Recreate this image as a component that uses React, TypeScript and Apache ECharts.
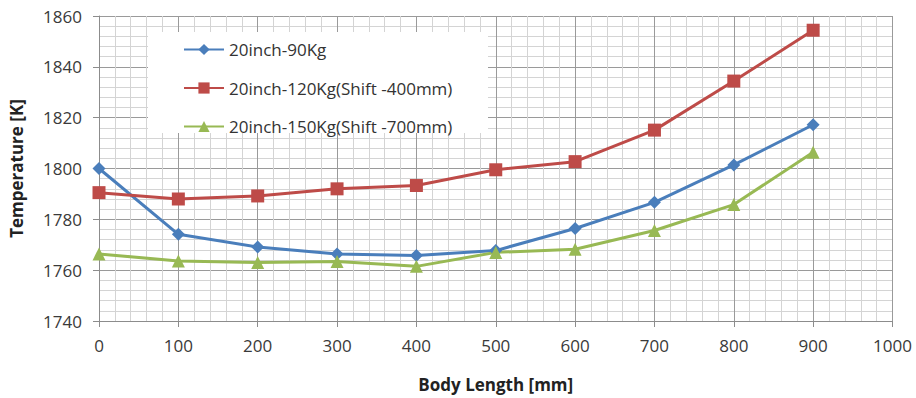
import React, { useEffect, useRef } from "react";
import * as echarts from "echarts";

const xValues = [0, 100, 200, 300, 400, 500, 600, 700, 800, 900];
const series90 = [1800, 1774.1, 1769.1, 1766.4, 1765.8, 1767.7, 1776.4, 1786.7, 1801.4, 1817.2];
const series120 = [1790.5, 1788, 1789.2, 1792, 1793.3, 1799.5, 1802.7, 1815.1, 1834.4, 1854.4];
const series150 = [1766.4, 1763.6, 1763.0, 1763.4, 1761.5, 1767.0, 1768.2, 1775.6, 1785.8, 1806.4];
const seriesNames = ["20inch-90Kg", "20inch-120Kg(Shift -400mm)", "20inch-150Kg(Shift -700mm)"];

const FONT = "Open Sans";

export default function App() {
  const ref = useRef<HTMLDivElement>(null);
  useEffect(() => {
    if (!ref.current) return;
    const chart = echarts.init(ref.current, null, { renderer: "svg" });
    const mk = (name: string, data: number[], color: string, symbol: string, size: number) => ({
      name,
      type: "line",
      data: xValues.map((x, i) => [x, data[i]]),
      symbol,
      symbolSize: size,
      lineStyle: { color, width: 3 },
      itemStyle: { color },
      z: 3,
    });
    chart.setOption({
      animation: false,
      textStyle: { fontFamily: FONT },
      grid: { left: 92.5, right: 23.5, top: 16, bottom: 70, containLabel: false },
      graphic: [
        {
          type: "rect",
          z: 1,
          shape: { x: 148, y: 32, width: 340, height: 101 },
          style: { fill: "#ffffff" },
        },
      ],
      legend: {
        orient: "vertical",
        left: 178,
        top: 36,
        itemWidth: 40,
        itemHeight: 14,
        itemGap: 21.5,
        z: 5,
        textStyle: { fontSize: 17, color: "#333", fontFamily: FONT },
        data: seriesNames,
      },
      xAxis: {
        type: "value",
        min: 0,
        max: 1000,
        interval: 100,
        name: "Body Length [mm]",
        nameLocation: "middle",
        nameGap: 55,
        nameTextStyle: { fontSize: 17, fontWeight: "bold", color: "#222", fontFamily: FONT },
        axisLine: { show: true, lineStyle: { color: "#8c8c8c", width: 1 } },
        axisTick: { show: true, length: 6, lineStyle: { color: "#8c8c8c" } },
        axisLabel: { fontSize: 17, color: "#3a3a3a", margin: 16, formatter: (v: number) => String(v) },
        splitLine: { show: true, lineStyle: { color: "#9a9a9a", width: 1 } },
        minorTick: { show: false, splitNumber: 5 },
        minorSplitLine: { show: true, lineStyle: { color: "#d4d4d4", width: 1 } },
      },
      yAxis: {
        type: "value",
        min: 1740,
        max: 1860,
        interval: 20,
        name: "Temperature [K]",
        nameLocation: "middle",
        nameGap: 74,
        nameTextStyle: { fontSize: 17, fontWeight: "bold", color: "#222", fontFamily: FONT },
        axisLine: { show: true, lineStyle: { color: "#8c8c8c", width: 1 } },
        axisTick: { show: true, length: 6, lineStyle: { color: "#8c8c8c" } },
        axisLabel: { fontSize: 17, color: "#3a3a3a", margin: 17, formatter: (v: number) => String(v) },
        splitLine: { show: true, lineStyle: { color: "#9a9a9a", width: 1 } },
        minorTick: { show: false, splitNumber: 5 },
        minorSplitLine: { show: true, lineStyle: { color: "#d4d4d4", width: 1 } },
      },
      series: [
        mk(seriesNames[0], series90, "#4a7ebb", "diamond", 13),
        mk(seriesNames[1], series120, "#be4b48", "rect", 13),
        mk(seriesNames[2], series150, "#98b954", "triangle", 13),
      ],
    });
    return () => chart.dispose();
  }, []);
  return <div ref={ref} style={{ width: 916, height: 398, position: "absolute", left: 0, top: 0, background: "#fff" }} />;
}
